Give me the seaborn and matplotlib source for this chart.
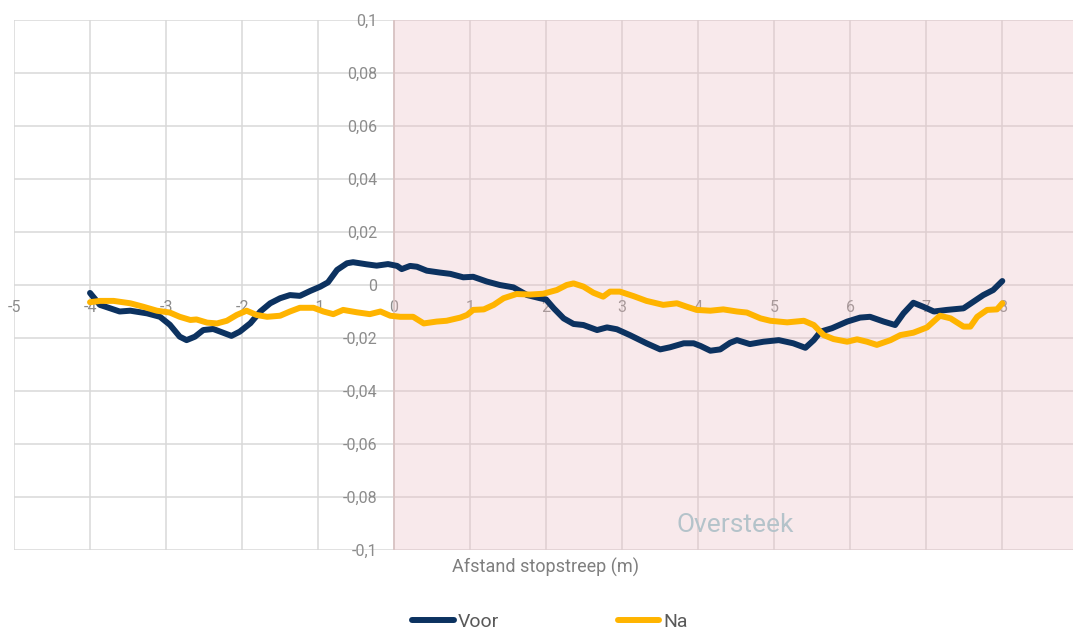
import numpy as np
import pandas as pd
import matplotlib
matplotlib.use("Agg")
import matplotlib.pyplot as plt
from matplotlib.ticker import FuncFormatter
import seaborn as sns

# waarden
voor_x = [-4.0, -3.87, -3.61, -3.47, -3.25, -3.08, -2.95, -2.82, -2.73, -2.62, -2.51, -2.38,
          -2.25, -2.14, -2.03, -1.89, -1.76, -1.63, -1.50, -1.37, -1.24, -1.10, -0.97, -0.87,
          -0.75, -0.62, -0.54, -0.36, -0.23, -0.08, 0.04, 0.10, 0.21, 0.30, 0.43, 0.60, 0.74,
          0.91, 1.04, 1.22, 1.39, 1.57, 1.75, 1.92, 2.00, 2.10, 2.23, 2.36, 2.49, 2.67, 2.80,
          2.93, 3.10, 3.32, 3.50, 3.63, 3.81, 3.94, 4.03, 4.16, 4.29, 4.42, 4.51, 4.68, 4.86,
          5.06, 5.25, 5.41, 5.52, 5.61, 5.76, 5.96, 6.13, 6.26, 6.44, 6.59, 6.70, 6.83, 6.96,
          7.10, 7.27, 7.49, 7.62, 7.75, 7.88, 8.0]
voor_y = [-0.003, -0.0075, -0.010, -0.0097, -0.0107, -0.012, -0.015, -0.0195, -0.0208, -0.0195,
          -0.017, -0.0166, -0.018, -0.0192, -0.0176, -0.0144, -0.010, -0.0069, -0.005, -0.0038,
          -0.0041, -0.0022, -0.0006, 0.0010, 0.0057, 0.0082, 0.0086, 0.0078, 0.0073, 0.0079,
          0.0072, 0.0060, 0.0072, 0.0069, 0.0054, 0.0047, 0.0042, 0.0029, 0.0031, 0.0013, 0.0,
          -0.0009, -0.0038, -0.005, -0.0055, -0.0088, -0.0126, -0.0147, -0.0151, -0.017, -0.016,
          -0.0167, -0.0189, -0.022, -0.0243, -0.0235, -0.022, -0.022, -0.023, -0.0248, -0.0243,
          -0.0218, -0.0208, -0.0223, -0.0214, -0.0208, -0.022, -0.0237, -0.0208, -0.0176,
          -0.0163, -0.0138, -0.0123, -0.012, -0.0138, -0.0151, -0.0107, -0.0067, -0.0082,
          -0.010, -0.0094, -0.0088, -0.0063, -0.0038, -0.0019, 0.0015]

na_x = [-4.0, -3.87, -3.69, -3.47, -3.30, -3.12, -2.95, -2.82, -2.68, -2.60, -2.46, -2.33,
        -2.20, -2.07, -1.94, -1.81, -1.67, -1.50, -1.37, -1.24, -1.06, -0.93, -0.80, -0.67,
        -0.49, -0.32, -0.18, -0.05, 0.08, 0.25, 0.39, 0.56, 0.69, 0.87, 0.96, 1.04, 1.18, 1.31,
        1.44, 1.61, 1.79, 1.96, 2.14, 2.27, 2.36, 2.49, 2.62, 2.75, 2.84, 2.97, 3.15, 3.32,
        3.54, 3.72, 3.85, 3.98, 4.16, 4.33, 4.51, 4.64, 4.82, 4.95, 5.17, 5.39, 5.52, 5.65,
        5.78, 5.96, 6.09, 6.22, 6.35, 6.53, 6.66, 6.83, 7.01, 7.18, 7.32, 7.49, 7.58, 7.67,
        7.80, 7.93, 8.0]
na_y = [-0.0065, -0.006, -0.006, -0.0069, -0.0082, -0.0097, -0.0104, -0.012, -0.0132, -0.013,
        -0.0142, -0.0145, -0.0135, -0.0113, -0.0097, -0.0113, -0.012, -0.0116, -0.010, -0.0086,
        -0.0086, -0.010, -0.011, -0.0094, -0.0103, -0.011, -0.010, -0.0116, -0.012, -0.012,
        -0.0145, -0.0138, -0.0135, -0.0123, -0.0113, -0.0094, -0.0092, -0.0075, -0.005, -0.0034,
        -0.0036, -0.0033, -0.0019, 0.0, 0.0006, -0.0006, -0.0029, -0.0044, -0.0025, -0.0025,
        -0.0042, -0.006, -0.0075, -0.0069, -0.0082, -0.0094, -0.0097, -0.0092, -0.010, -0.0104,
        -0.0126, -0.0135, -0.0141, -0.0135, -0.0151, -0.0189, -0.0204, -0.0214, -0.0205,
        -0.0214, -0.0226, -0.0208, -0.0189, -0.018, -0.016, -0.0116, -0.0126, -0.0157, -0.0157,
        -0.012, -0.0094, -0.0092, -0.0069]

reeksen = ["Voor", "Na"]
kleuren = {"Voor": "#0C3260", "Na": "#FFB400"}

df = pd.concat([
    pd.DataFrame({"x": voor_x, "y": voor_y, "reeks": "Voor"}),
    pd.DataFrame({"x": na_x, "y": na_y, "reeks": "Na"}),
])

sns.set_style("white")
plt.rcParams["font.family"] = ["Roboto", "DejaVu Sans"]

fig = plt.figure(figsize=(10.73, 6.32), dpi=100)
ax = fig.add_axes([14 / 1073, 82 / 632, 1059 / 1073, 530 / 632])

# oversteek gebied
ax.axvspan(0, 9, color=(0.92, 0.72, 0.74), alpha=0.3, lw=0, zorder=1)
ax.axvline(0, color=(0.85, 0.76, 0.76), lw=1.2, zorder=1.1)

sns.lineplot(data=df, x="x", y="y", hue="reeks", hue_order=reeksen, palette=kleuren,
             estimator=None, sort=False, lw=4.3, ax=ax, legend=False, zorder=3)
for l in ax.lines[1:]:
    l.set_solid_capstyle("round")
    l.set_solid_joinstyle("round")

ax.set_xlim(-5, 8.93)
ax.set_ylim(-0.1, 0.1)
ax.set_xticks(range(-5, 9))
ax.set_yticks(np.arange(-0.1, 0.1001, 0.02))

def komma(v, pos):
    v = round(v, 2)
    if v == 0:
        return "0"
    return f"{v:g}".replace(".", ",")

ax.yaxis.set_major_formatter(FuncFormatter(komma))
ax.xaxis.set_major_formatter(FuncFormatter(lambda v, p: f"{int(round(v))}"))

ax.set_axisbelow(True)
ax.grid(True, color="#d9d9d9", lw=1.1)
for s in ax.spines.values():
    s.set_visible(False)
ax.spines["left"].set_position(("data", 0))
ax.spines["bottom"].set_position(("data", 0))
ax.tick_params(axis="both", length=0, labelsize=11.5, labelcolor="#8c8c8c")
ax.tick_params(axis="y", pad=12)
ax.tick_params(axis="x", pad=11)
ax.set_xlabel("")
ax.set_ylabel("")

ax.text(4.49, -0.0906, "Oversteek", color="#b4c3ca", fontsize=19,
        ha="center", va="center", zorder=2)

fig.text(546 / 1073, 1 - 567 / 632, "Afstand stopstreep (m)", color="#7f7f7f",
         fontsize=13, ha="center", va="center")

handles = [plt.Line2D([], [], color=kleuren[r], lw=4.3, solid_capstyle="round") for r in reeksen]
leg = fig.legend(handles, reeksen, loc="center", bbox_to_anchor=(550 / 1073, 1 - 622 / 632),
                 ncol=2, frameon=False, fontsize=14, handlelength=2.15, handletextpad=0.2,
                 columnspacing=6.1)
for t in leg.get_texts():
    t.set_color("#595959")

plt.savefig("out.png", dpi=100)
